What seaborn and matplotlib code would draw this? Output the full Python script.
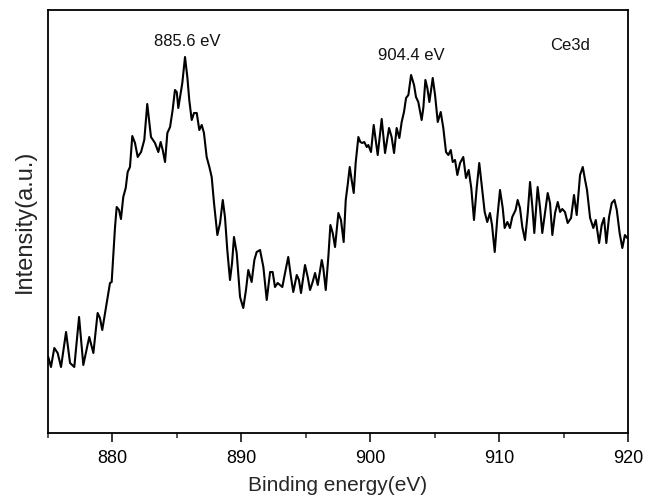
import matplotlib
matplotlib.use("Agg")
import matplotlib.pyplot as plt
import seaborn as sns
from matplotlib.ticker import MultipleLocator

# Binding energy (eV)
energy = [
    875.02, 875.23, 875.49, 875.75, 876.01, 876.40, 876.71, 877.04, 877.41, 877.74,
    878.20, 878.52, 878.85, 879.03, 879.21, 879.55, 879.81, 879.94, 880.20, 880.33,
    880.51, 880.66, 880.84, 881.03, 881.18, 881.36, 881.54, 881.75, 881.96, 882.22,
    882.47, 882.70, 882.99, 883.30, 883.56, 883.74,
    883.90, 884.08, 884.26, 884.47, 884.67, 884.85, 884.99, 885.11, 885.30, 885.42,
    885.63, 885.81, 885.96, 886.15, 886.33, 886.54, 886.74, 886.93, 887.10, 887.31,
    887.52, 887.70, 887.88, 888.14, 888.35, 888.56, 888.73, 888.91, 889.12, 889.28,
    889.43, 889.64, 889.90, 890.15, 890.36, 890.54, 890.80, 891.01, 891.19, 891.45,
    891.71, 891.97, 892.23, 892.43, 892.61, 892.82,
    893.00, 893.18, 893.39, 893.64, 893.85, 894.03, 894.30, 894.47, 894.63, 894.94,
    895.15, 895.33, 895.51, 895.72, 895.93, 896.24, 896.36, 896.55, 896.75, 896.91,
    897.09, 897.27, 897.53, 897.73, 897.94, 898.10, 898.25, 898.41, 898.56, 898.72,
    898.87, 899.08, 899.23, 899.39, 899.54, 899.73, 899.85, 900.06, 900.27, 900.58,
    900.89, 901.15, 901.46, 901.66,
    901.85, 902.05, 902.26, 902.44, 902.62, 902.78, 902.96, 903.17, 903.40, 903.55,
    903.73, 903.99, 904.12, 904.28, 904.43, 904.59, 904.85, 905.03, 905.24, 905.47,
    905.67, 905.88, 906.06, 906.25, 906.40, 906.58, 906.76, 906.97, 907.22, 907.43,
    907.64, 907.84, 908.05, 908.26, 908.46, 908.67, 908.88, 909.08, 909.29, 909.45,
    909.66, 909.86, 910.07, 910.28, 910.43, 910.64,
    910.84, 911.02, 911.28, 911.44, 911.62, 911.80, 912.01, 912.22, 912.40, 912.58,
    912.73, 912.99, 913.17, 913.35, 913.56, 913.77, 913.95, 914.13, 914.34, 914.55,
    914.73, 914.90, 915.11, 915.32, 915.58, 915.81, 916.02, 916.28, 916.49, 916.67,
    916.82, 917.06, 917.31, 917.50, 917.76, 917.96, 918.14, 918.32, 918.53, 918.74,
    918.95, 919.13, 919.35, 919.56, 919.76, 919.94,
]

# Intensity (arbitrary units)
intensity = [
    76, 66, 85, 80, 66, 101, 70, 66, 116, 68,
    96, 80, 120, 115, 103, 130, 150, 151, 206, 226,
    223, 214, 236, 245, 261, 266, 297, 290, 276, 281,
    293, 329, 296, 290, 281, 291,
    283, 271, 300, 306, 323, 343, 341, 325, 340, 350,
    376, 356, 333, 313, 320, 320, 303, 308, 300, 276,
    266, 256, 230, 198, 210, 233, 216, 183, 153, 170,
    196, 180, 136, 125, 143, 163, 151, 173, 181, 183,
    166, 133, 161, 161, 146, 150,
    148, 146, 160, 176, 156, 141, 158, 153, 140, 168,
    156, 143, 150, 160, 148, 173, 165, 143, 176, 208,
    200, 186, 220, 213, 191, 233, 248, 266, 253, 240,
    270, 296, 291, 290, 291, 286, 288, 281, 308, 278,
    314, 280, 305, 296,
    280, 305, 295, 311, 321, 335, 338, 358, 348, 336,
    331, 313, 325, 353, 345, 331, 355, 338, 311, 321,
    305, 281, 278, 283, 271, 273, 258, 270, 276, 255,
    263, 245, 213, 245, 270, 245, 221, 211, 220, 208,
    181, 215, 243, 225, 205, 211,
    205, 216, 223, 233, 225, 206, 193, 220, 251, 226,
    200, 246, 226, 200, 220, 240, 230, 198, 220, 231,
    221, 224, 221, 210, 215, 238, 218, 258, 266, 253,
    243, 215, 205, 213, 190, 208, 215, 190, 216, 230,
    233, 223, 200, 185, 198, 195,
]

peak_labels = ["885.6 eV", "904.4 eV", "Ce3d"]
label_x = [885.8, 903.2, 915.5]
label_y = [391, 377, 388]

x_major = [880, 890, 900, 910, 920]

sns.set_style("ticks")
plt.rcParams["font.family"] = ["Liberation Sans", "DejaVu Sans"]

fig = plt.figure(figsize=(6.47, 5.00), dpi=100)
ax = fig.add_axes([48 / 647, 67 / 500, 580 / 647, 423 / 500])

sns.lineplot(x=energy, y=intensity, ax=ax, color="black", linewidth=1.5,
             estimator=None, sort=False)

ax.set_xlim(875, 920)
ax.set_ylim(0, 423)
ax.set_xticks(x_major)
ax.xaxis.set_minor_locator(MultipleLocator(5))
ax.set_yticks([])
ax.tick_params(axis="x", which="major", direction="out", length=6.5, width=1.1,
               labelsize=13, colors="black", pad=6, top=False)
ax.tick_params(axis="x", which="minor", direction="out", length=3.5, width=1.1,
               top=False)
for s in ax.spines.values():
    s.set_visible(True)
    s.set_color("black")
    s.set_linewidth(1.3)

ax.set_xlabel("Binding energy(eV)", fontsize=15, labelpad=6)
ax.set_ylabel("Intensity(a.u.)", fontsize=17, labelpad=9)

for t, xx, yy in zip(peak_labels, label_x, label_y):
    ax.text(xx, yy, t, ha="center", va="center", fontsize=12, color="#111111")

fig.savefig("out.png", dpi=100)
